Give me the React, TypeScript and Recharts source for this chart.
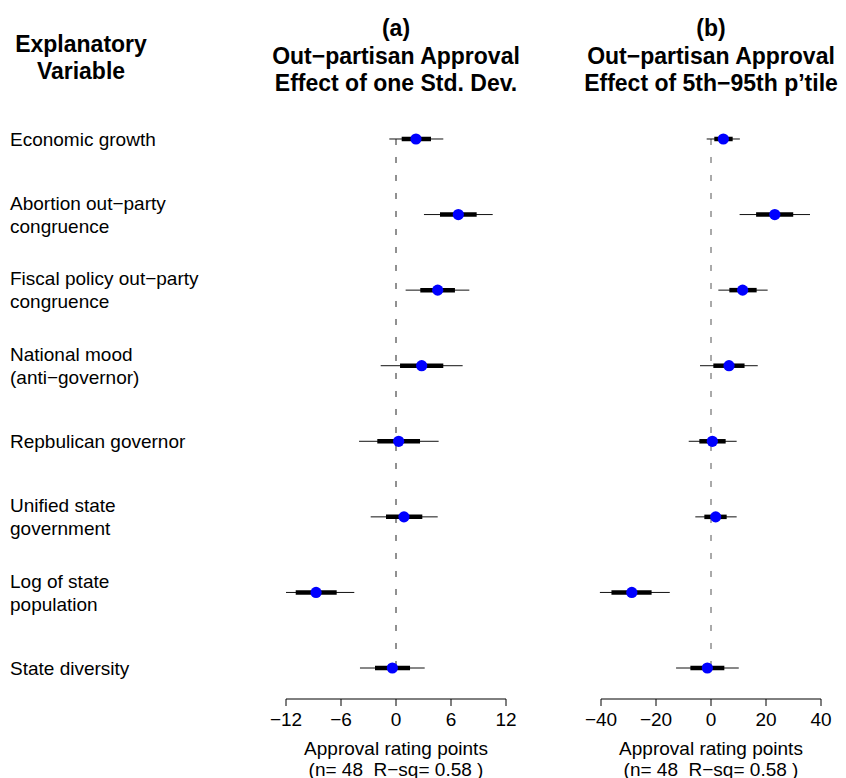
import React from "react";
import {
  ErrorBar,
  ReferenceLine,
  Scatter,
  ScatterChart,
  XAxis,
  YAxis,
} from "recharts";

const FONT = '"Liberation Sans", Arial, Helvetica, sans-serif';

/* =========================
   Data
========================= */

const rowLabels = [
  "Economic growth",
  "Abortion out−party\ncongruence",
  "Fiscal policy out−party\ncongruence",
  "National mood\n(anti−governor)",
  "Repbulican governor",
  "Unified state\ngovernment",
  "Log of state\npopulation",
  "State diversity",
];

// panel (a): effect of one std. dev.
const aEst = [2.18, 6.8, 4.55, 2.8, 0.29, 0.87, -8.72, -0.4];
const aInnerLo = [0.62, 4.8, 2.65, 0.44, -2.04, -1.09, -10.94, -2.29];
const aInnerHi = [3.82, 8.8, 6.43, 5.16, 2.62, 2.87, -6.47, 1.53];
const aOuterLo = [-0.73, 3.05, 1.05, -1.67, -4.03, -2.76, -12.0, -3.93];
const aOuterHi = [5.16, 10.55, 8.0, 7.27, 4.65, 4.55, -4.55, 3.13];
const aTicks = [-12, -6, 0, 6, 12];

// panel (b): effect of 5th-95th percentile
const bEst = [4.48, 23.2, 11.5, 6.55, 0.48, 1.7, -28.8, -1.33];
const bInnerLo = [1.2, 16.4, 6.67, 0.85, -4.24, -2.42, -36.2, -7.5];
const bInnerHi = [7.88, 29.9, 16.6, 12.2, 5.33, 5.7, -21.6, 4.85];
const bOuterLo = [-1.57, 10.4, 2.67, -4.0, -8.1, -5.7, -40.4, -12.7];
const bOuterHi = [10.5, 36.0, 20.6, 17.0, 9.33, 9.33, -15.0, 10.1];
const bTicks = [-40, -20, 0, 20, 40];

const rows = rowLabels.map((_, i) => i + 1);

/* =========================
   Helpers
========================= */

function buildRows(est: number[], iLo: number[], iHi: number[], oLo: number[], oHi: number[]) {
  return est.map((e, i) => ({
    row: rows[i],
    est: e,
    inner: [e - iLo[i], iHi[i] - e],
    outer: [e - oLo[i], oHi[i] - e],
  }));
}

function fmtTick(v: number) {
  return v < 0 ? `−${Math.abs(v)}` : String(v);
}

function RowTick(props: any) {
  const { y, payload } = props;
  const lines: string[] = rowLabels[payload.value - 1].split("\n");
  const first = y + 6.8 - 11.5 * (lines.length - 1);
  return (
    <text x={10} y={first} fontSize={19} fontFamily={FONT} fill="#000" textAnchor="start">
      {lines.map((l, i) => (
        <tspan key={i} x={10} y={first + i * 23}>
          {l}
        </tspan>
      ))}
    </text>
  );
}

const Dot = (p: any) => <circle cx={p.cx} cy={p.cy} r={5.6} fill="#0000ff" />;

type PanelProps = {
  data: ReturnType<typeof buildRows>;
  ticks: number[];
  left: number;
  right: number;
  showLabels: boolean;
  zeroColor: string;
};

function Panel({ data, ticks, left, right, showLabels, zeroColor }: PanelProps) {
  return (
    <div style={{ position: "absolute", left: 0, top: 0 }}>
      <ScatterChart
        width={846}
        height={778}
        margin={{ top: 108, right, bottom: 0, left: showLabels ? 0 : left }}
      >
        <XAxis
          type="number"
          dataKey="est"
          domain={[ticks[0], ticks[ticks.length - 1]]}
          ticks={ticks}
          allowDataOverflow
          tickFormatter={fmtTick}
          tick={{ fontSize: 19, fill: "#000", fontFamily: FONT }}
          axisLine={{ stroke: "#000" }}
          tickLine={{ stroke: "#000" }}
          tickSize={7}
          tickMargin={7}
          height={79}
          interval={0}
        />
        <YAxis
          type="number"
          dataKey="row"
          domain={[0.59, 8.41]}
          ticks={rows}
          reversed
          allowDataOverflow
          hide={!showLabels}
          width={showLabels ? left : 0}
          axisLine={false}
          tickLine={false}
          tick={(p: any) => <RowTick {...p} />}
          interval={0}
        />
        <ReferenceLine
          segment={[
            { x: 0, y: 1 },
            { x: 0, y: 8 },
          ]}
          stroke={zeroColor}
          strokeDasharray="6 12"
        />
        <Scatter data={data} shape={Dot} isAnimationActive={false}>
          <ErrorBar dataKey="outer" direction="x" width={0} stroke="#111" strokeWidth={1} isAnimationActive={false} />
          <ErrorBar dataKey="inner" direction="x" width={0} stroke="#000" strokeWidth={4.5} isAnimationActive={false} />
        </Scatter>
      </ScatterChart>
    </div>
  );
}

/* =========================
   App
========================= */

export default function App() {
  const dataA = buildRows(aEst, aInnerLo, aInnerHi, aOuterLo, aOuterHi);
  const dataB = buildRows(bEst, bInnerLo, bInnerHi, bOuterLo, bOuterHi);

  const head = { fontSize: 23, fontWeight: 700, fontFamily: FONT, fill: "#000" } as const;
  const foot = { fontSize: 19, fontFamily: FONT, fill: "#000", whiteSpace: "pre" } as any;

  return (
    <div style={{ position: "absolute", left: 0, top: 0, width: 846, height: 778, background: "#fff", overflow: "hidden" }}>
      <Panel data={dataA} ticks={aTicks} left={286} right={340} showLabels zeroColor="#222" />
      <Panel data={dataB} ticks={bTicks} left={601} right={25} showLabels={false} zeroColor="#555" />

      <svg width={846} height={778} style={{ position: "absolute", left: 0, top: 0, pointerEvents: "none" }}>
        <g textAnchor="middle">
          <text x={81} y={52} {...head}>Explanatory</text>
          <text x={81} y={79} {...head}>Variable</text>

          <text x={396} y={36} {...head}>(a)</text>
          <text x={396} y={64} {...head}>Out−partisan Approval</text>
          <text x={396} y={91} {...head}>Effect of one Std. Dev.</text>

          <text x={711} y={36} {...head}>(b)</text>
          <text x={711} y={64} {...head}>Out−partisan Approval</text>
          <text x={711} y={91} {...head}>Effect of 5th−95th p’tile</text>

          <text x={396} y={755} style={foot}>Approval rating points</text>
          <text x={396} y={776} style={foot}>(n= 48  R−sq= 0.58 )</text>
          <text x={711} y={755} style={foot}>Approval rating points</text>
          <text x={711} y={776} style={foot}>(n= 48  R−sq= 0.58 )</text>
        </g>
      </svg>
    </div>
  );
}
